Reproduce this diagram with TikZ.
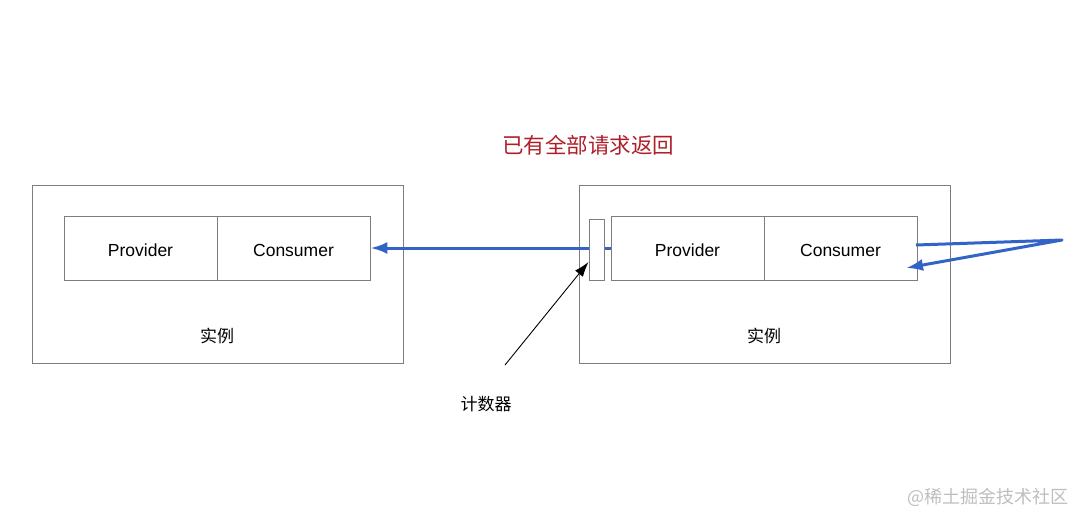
\documentclass[tikz,border=0pt]{standalone}
\usepackage{fontspec}
\setmainfont{Liberation Sans}
\newfontfamily\cjk{Noto Sans CJK SC}
\usetikzlibrary{arrows.meta}
\definecolor{boxgray}{RGB}{125,125,125}
\definecolor{arrowblue}{RGB}{50,100,200}
\definecolor{titlered}{RGB}{175,30,40}
\definecolor{wmgray}{RGB}{190,190,190}
\tikzset{
  outerbox/.style={draw=boxgray, line width=0.9pt},
  cell/.style={draw=boxgray, line width=0.9pt, fill=white, minimum height=64pt, minimum width=153pt, inner sep=0pt, text height=16pt, text depth=0pt, font=\fontsize{17.5}{20}\selectfont},
  counterbox/.style={draw=boxgray, line width=0.9pt, fill=white, minimum width=15pt, minimum height=61pt, inner sep=0pt},
  label/.style={font=\cjk\fontsize{17}{20}\selectfont, inner sep=0pt},
  bluearrow/.style={draw=arrowblue, line width=3pt, -{Latex[length=17pt,width=12pt]}},
}
\begin{document}
\begin{tikzpicture}[x=1pt,y=-1pt]
\useasboundingbox (0,0) rectangle (1080,523);
% left instance
\node[outerbox, minimum width=371pt, minimum height=178pt, inner sep=0pt] (louter) at (217.5,274) {};
\node[cell] (lprov) at (140.5,248) {Provider};
\node[cell] (lcons) at (293.5,248) {Consumer};
\node[label] (lname) at (217,336) {实例};
% right instance
\node[outerbox, minimum width=371pt, minimum height=178pt, inner sep=0pt] (router) at (764.5,274) {};
\node[cell] (rprov) at (687.5,248) {Provider};
\node[cell] (rcons) at (840.5,248) {Consumer};
\node[label] (rname) at (764,336) {实例};
% blue arrow from right to left
\draw[bluearrow] (rprov.west) -- (lcons.east);
% counter
\node[counterbox] (counter) at (596.5,249.5) {};
\node[label] (clabel) at (486,404) {计数器};
\coordinate (ctail) at (505,365);
\draw[line width=0.9pt, -{Latex[length=15pt,width=10pt]}] (ctail) -- (588.5,262);
% title
\node[font=\cjk\fontsize{21.5}{24}\selectfont, text=titlered, inner sep=0pt] (title) at (588,145) {已有全部请求返回};
% loop arrow on the right
\coordinate (loopstart) at (916,245);
\coordinate (loopfar) at (1062,240);
\coordinate (loopend) at (906,268);
\draw[bluearrow, line join=round] (loopstart) -- (loopfar) -- (loopend);
% watermark
\node[font=\cjk\fontsize{18}{20}\selectfont, text=wmgray, inner sep=0pt] (wm) at (988,497) {@稀土掘金技术社区};
\end{tikzpicture}
\end{document}
